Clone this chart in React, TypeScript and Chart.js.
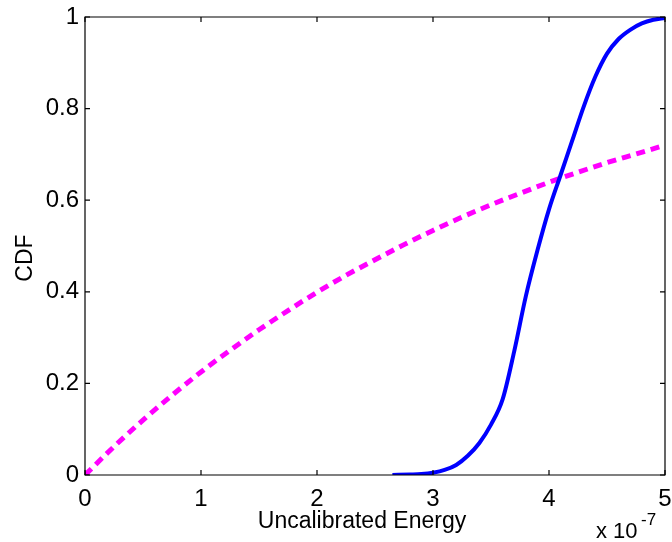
import React, { useEffect, useRef } from "react";
import { Chart, registerables } from "chart.js";
Chart.register(...registerables);

const xTicks = [0, 1, 2, 3, 4, 5];
const yTicks = [0, 0.2, 0.4, 0.6, 0.8, 1];
const xLabel = "Uncalibrated Energy";
const yLabel = "CDF";
const xExpBase = "x 10";
const xExpPower = "-7";

// measured CDF (solid blue)
const measuredX = [2.65, 2.8, 2.9, 3.0, 3.1, 3.2, 3.3, 3.4, 3.5, 3.6, 3.7, 3.8, 3.9, 4.0, 4.1, 4.2, 4.3, 4.4, 4.5, 4.6, 4.7, 4.8, 4.9, 5.0];
const measuredY = [0, 0.001, 0.002, 0.005, 0.011, 0.022, 0.042, 0.07, 0.11, 0.165, 0.27, 0.39, 0.49, 0.58, 0.655, 0.73, 0.805, 0.87, 0.92, 0.952, 0.972, 0.986, 0.994, 0.998];

// model CDF (dotted magenta)
const modelX = [0, 0.25, 0.5, 0.75, 1, 1.25, 1.5, 1.75, 2, 2.25, 2.5, 2.75, 3, 3.25, 3.5, 3.75, 4, 4.25, 4.5, 4.75, 5];
const modelY = [0, 0.062, 0.12, 0.174, 0.225, 0.272, 0.317, 0.359, 0.399, 0.436, 0.47, 0.503, 0.534, 0.563, 0.59, 0.615, 0.639, 0.661, 0.682, 0.701, 0.72];

const FONT = "'Liberation Sans', Arial, Helvetica, sans-serif";

const boxPlugin = {
  id: "matlabBox",
  afterDraw(chart: any) {
    const ctx = chart.ctx;
    const { left, right, top, bottom } = chart.chartArea;
    const xs = chart.scales.x;
    const ys = chart.scales.y;
    ctx.save();
    ctx.strokeStyle = "#000";
    ctx.lineWidth = 1.2;
    ctx.beginPath();
    ctx.rect(left, top, right - left, bottom - top);
    ctx.stroke();
    const tl = 5;
    ctx.beginPath();
    xTicks.forEach((v) => {
      const px = xs.getPixelForValue(v);
      ctx.moveTo(px, bottom);
      ctx.lineTo(px, bottom - tl);
      ctx.moveTo(px, top);
      ctx.lineTo(px, top + tl);
    });
    yTicks.forEach((v) => {
      const py = ys.getPixelForValue(v);
      ctx.moveTo(left, py);
      ctx.lineTo(left + tl, py);
      ctx.moveTo(right, py);
      ctx.lineTo(right - tl, py);
    });
    ctx.stroke();

    ctx.fillStyle = "#000";
    ctx.font = `23px ${FONT}`;
    ctx.textAlign = "center";
    ctx.textBaseline = "alphabetic";
    ctx.fillText(xLabel, 362, 528);

    ctx.save();
    ctx.translate(32, 258);
    ctx.rotate(-Math.PI / 2);
    ctx.fillText(yLabel, 0, 0);
    ctx.restore();

    ctx.textAlign = "left";
    ctx.font = `22px ${FONT}`;
    ctx.fillText(xExpBase, 596, 538);
    ctx.font = `17px ${FONT}`;
    ctx.fillText(xExpPower, 641, 525);
    ctx.restore();
  },
};

export default function App() {
  const ref = useRef<HTMLCanvasElement>(null);
  useEffect(() => {
    const chart = new Chart(ref.current as HTMLCanvasElement, {
      type: "line",
      data: {
        datasets: [
          {
            data: measuredX.map((x, i) => ({ x, y: measuredY[i] })),
            borderColor: "#0000ff",
            borderWidth: 4,
            pointRadius: 0,
            cubicInterpolationMode: "monotone",
            fill: false,
          },
          {
            data: modelX.map((x, i) => ({ x, y: modelY[i] })),
            borderColor: "#ff00ff",
            borderWidth: 5,
            borderDash: [9, 6],
            pointRadius: 0,
            cubicInterpolationMode: "monotone",
            fill: false,
          },
        ],
      },
      options: {
        responsive: false,
        animation: false,
        layout: { padding: { top: 17, right: 7, left: 0, bottom: 0 } },
        plugins: { legend: { display: false }, tooltip: { enabled: false } },
        scales: {
          x: {
            type: "linear",
            min: 0,
            max: 5,
            grid: { display: false, drawTicks: false },
            border: { display: false },
            afterBuildTicks: (s: any) => {
              s.ticks = xTicks.map((v) => ({ value: v }));
            },
            ticks: {
              color: "#000",
              font: { family: FONT, size: 24 },
              padding: 10,
              maxRotation: 0,
              callback: (v: any) => String(v),
            },
            afterFit: (s: any) => {
              s.height = 67;
              s.paddingLeft = 0;
              s.paddingRight = 0;
            },
          },
          y: {
            type: "linear",
            min: 0,
            max: 1,
            grid: { display: false, drawTicks: false },
            border: { display: false },
            afterBuildTicks: (s: any) => {
              s.ticks = yTicks.map((v) => ({ value: v }));
            },
            ticks: {
              color: "#000",
              font: { family: FONT, size: 24 },
              padding: 6,
              callback: (v: any) => String(v),
            },
            afterFit: (s: any) => {
              s.width = 85;
              s.paddingTop = 0;
              s.paddingBottom = 0;
            },
          },
        },
      },
      plugins: [boxPlugin],
    } as any);
    return () => chart.destroy();
  }, []);
  return (
    <div style={{ position: "fixed", left: 0, top: 0, width: 672, height: 542, background: "#fff" }}>
      <canvas ref={ref} width={672} height={542} style={{ width: 672, height: 542 }} />
    </div>
  );
}
